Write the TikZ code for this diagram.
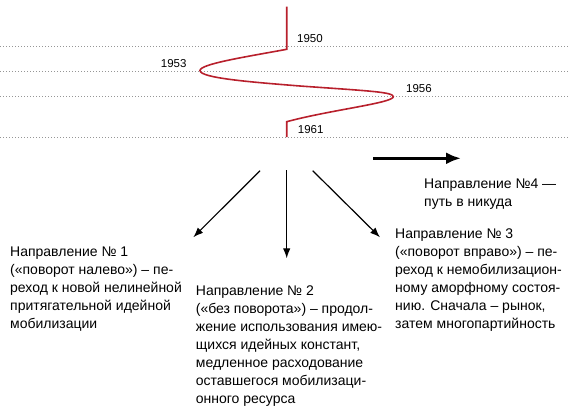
\documentclass[tikz,border=0pt]{standalone}
\usepackage{fontspec}
\setmainfont{Liberation Sans}
\usetikzlibrary{arrows.meta}
\definecolor{curvered}{RGB}{184,32,44}
\definecolor{dotgray}{RGB}{150,150,150}
\tikzset{
  txt/.style={font=\fontsize{14}{18}\selectfont, align=left, inner sep=0pt, anchor=base west, text=black},
  yr/.style={font=\fontsize{11.5}{13}\selectfont, inner sep=0pt, anchor=base west, text=black},
  guide/.style={dotgray, line width=0.6pt, dash pattern=on 0.8pt off 2.2pt},
  thinarrow/.style={line width=1.2pt, -{Latex[length=10pt,width=7.5pt]}},
  thickarrow/.style={line width=3pt, -{Latex[length=15pt,width=12pt]}},
  redline/.style={curvered, line width=1.6pt, line join=miter}
}
\begin{document}
\begin{tikzpicture}[x=1pt,y=-1pt]
\useasboundingbox (0,0) rectangle (570,413);
% guide lines
\foreach \yy in {46.7,71,96.7,137}{
  \draw[guide] (0,\yy) -- (570,\yy);
}
% red curve
\draw[redline] (286.7,6.7) -- (286.7,49.3)
  .. controls (245,57) and (200,64) .. (200,70.5)
  .. controls (200,78) and (250,82) .. (300,86)
  .. controls (370,91) and (393.3,92) .. (393.3,96.7)
  .. controls (393.3,103) and (330,110) .. (286.7,121.7)
  -- (286.7,137);
% years
\node[yr] (y1950) at (297,42.8) {1950};
\node[yr] (y1953) at (160.7,67.4) {1953};
\node[yr] (y1956) at (406,92.4) {1956};
\node[yr] (y1961) at (297.7,133.4) {1961};
% arrow coordinates
\coordinate (s1) at (260,170.7);
\coordinate (e1) at (193.3,237.3);
\coordinate (s2) at (286.7,170);
\coordinate (e2) at (286.7,258.3);
\coordinate (s3) at (312.7,170.7);
\coordinate (e3) at (380,237.3);
\coordinate (s4) at (373,158.3);
\coordinate (e4) at (461,158.3);
\draw[thinarrow] (s1) -- (e1);
\draw[thinarrow] (s2) -- (e2);
\draw[thinarrow] (s3) -- (e3);
\draw[thickarrow] (s4) -- (e4);
% texts (anchor at baseline of last line)
\node[txt] (d1) at (10,328.7) {Направление № 1\\(«поворот налево») – пе-\\реход к новой нелинейной\\притягательной идейной\\мобилизации};
\node[txt] (d2) at (195.7,403) {Направление № 2\\(«без поворота») – продол-\\жение использования имею-\\щихся идейных констант,\\медленное расходование\\оставшегося мобилизаци-\\онного ресурса};
\node[txt] (d3) at (395,328.7) {Направление № 3\\(«поворот вправо») – пе-\\реход к немобилизацион-\\ному аморфному состоя-\\нию. Сначала – рынок,\\затем многопартийность};
\node[txt] (d4) at (424,206.3) {Направление №4 —\\путь в никуда};
\end{tikzpicture}
\end{document}
